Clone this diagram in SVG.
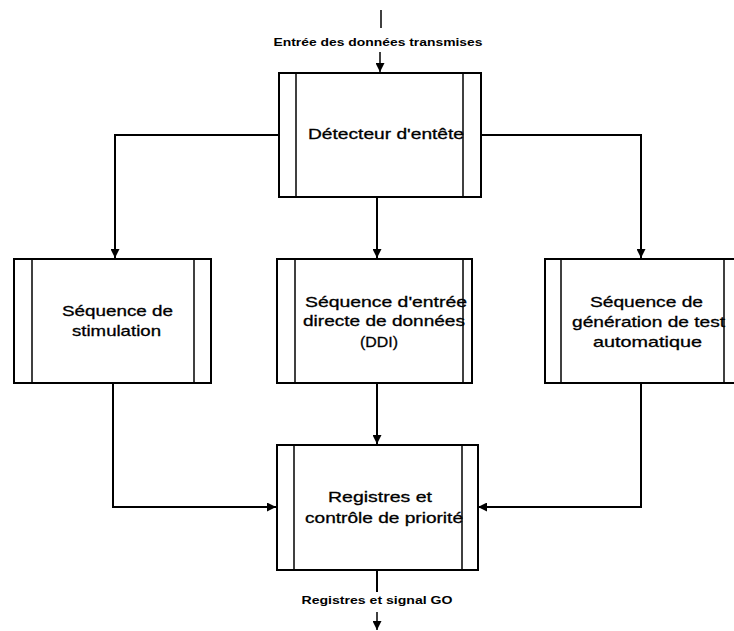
<svg xmlns="http://www.w3.org/2000/svg" width="734" height="631" viewBox="0 0 734 631">
<style>
.box{fill:#fff;stroke:#000;stroke-width:2}
.bar{stroke:#000;stroke-width:1.5;fill:none}
.ln{stroke:#000;stroke-width:2;fill:none}
.t{font-family:"Liberation Sans",Arial,sans-serif;font-size:15px;fill:#000;text-anchor:middle;stroke:#000;stroke-width:0.3}
.s{font-family:"Liberation Sans",Arial,sans-serif;font-size:11px;font-weight:bold;fill:#000;text-anchor:middle}
</style>
<defs>
<marker id="ah" viewBox="0 0 10 10" refX="10" refY="5" markerWidth="9" markerHeight="9" markerUnits="userSpaceOnUse" orient="auto">
<path d="M0,0 L10,5 L0,10 Z" fill="#000"/>
</marker>
</defs>
<rect width="734" height="631" fill="#fff"/>
<g id="connectors">
<line class="ln" x1="381" y1="10" x2="381" y2="28" style="stroke-width:1.5"/>
<line class="ln" x1="380" y1="52" x2="380" y2="72" style="stroke-width:1.5" marker-end="url(#ah)"/>
<polyline class="ln" points="279,135 115,135 115,258" marker-end="url(#ah)"/>
<polyline class="ln" points="481,135 641,135 641,258" marker-end="url(#ah)"/>
<line class="ln" x1="377" y1="197" x2="377" y2="258" marker-end="url(#ah)"/>
<polyline class="ln" points="113,383 113,507 276,507" marker-end="url(#ah)"/>
<polyline class="ln" points="641,383 641,507 478,507" marker-end="url(#ah)"/>
<line class="ln" x1="377" y1="383" x2="377" y2="444" marker-end="url(#ah)"/>
<line class="ln" x1="377" y1="570" x2="377" y2="592"/>
<line class="ln" x1="377" y1="612" x2="377" y2="630" style="stroke-width:1.5" marker-end="url(#ah)"/>
<text class="s" x="378" y="46" textLength="209" lengthAdjust="spacingAndGlyphs">Entrée des données transmises</text>
<text class="s" x="377" y="604" textLength="151" lengthAdjust="spacingAndGlyphs">Registres et signal GO</text>
</g>
<g id="detecteur">
<rect class="box" x="279" y="73" width="202" height="124"/>
<line class="bar" x1="296" y1="73" x2="296" y2="197"/>
<line class="bar" x1="463" y1="73" x2="463" y2="197"/>
<text class="t" x="386" y="139" textLength="156" lengthAdjust="spacingAndGlyphs">Détecteur d'entête</text>
</g>
<g id="stimulation">
<rect class="box" x="14" y="259" width="197" height="124"/>
<line class="bar" x1="32" y1="259" x2="32" y2="383"/>
<line class="bar" x1="194" y1="259" x2="194" y2="383"/>
<text class="t" x="117.5" y="316" textLength="111" lengthAdjust="spacingAndGlyphs">Séquence de</text>
<text class="t" x="116.5" y="336" textLength="89" lengthAdjust="spacingAndGlyphs">stimulation</text>
</g>
<g id="ddi">
<rect class="box" x="277" y="259" width="195" height="124"/>
<line class="bar" x1="295" y1="259" x2="295" y2="383"/>
<line class="bar" x1="463" y1="259" x2="463" y2="383"/>
<text class="t" x="386" y="307" textLength="162" lengthAdjust="spacingAndGlyphs">Séquence d'entrée</text>
<text class="t" x="384" y="326" textLength="162" lengthAdjust="spacingAndGlyphs">directe de données</text>
<text class="t" x="379" y="347" textLength="38" lengthAdjust="spacingAndGlyphs">(DDI)</text>
</g>
<g id="test-auto">
<rect class="box" x="545" y="259" width="196" height="124"/>
<line class="bar" x1="561" y1="259" x2="561" y2="383"/>
<line class="bar" x1="724" y1="259" x2="724" y2="383"/>
<text class="t" x="646.5" y="307" textLength="113" lengthAdjust="spacingAndGlyphs">Séquence de</text>
<text class="t" x="648.5" y="327" textLength="153" lengthAdjust="spacingAndGlyphs">génération de test</text>
<text class="t" x="647.5" y="347" textLength="109" lengthAdjust="spacingAndGlyphs">automatique</text>
</g>
<g id="registres">
<rect class="box" x="277" y="445" width="201" height="125"/>
<line class="bar" x1="294" y1="445" x2="294" y2="570"/>
<line class="bar" x1="462" y1="445" x2="462" y2="570"/>
<text class="t" x="380" y="502" textLength="104" lengthAdjust="spacingAndGlyphs">Registres et</text>
<text class="t" x="384" y="523" textLength="158" lengthAdjust="spacingAndGlyphs">contrôle de priorité</text>
</g>
</svg>
